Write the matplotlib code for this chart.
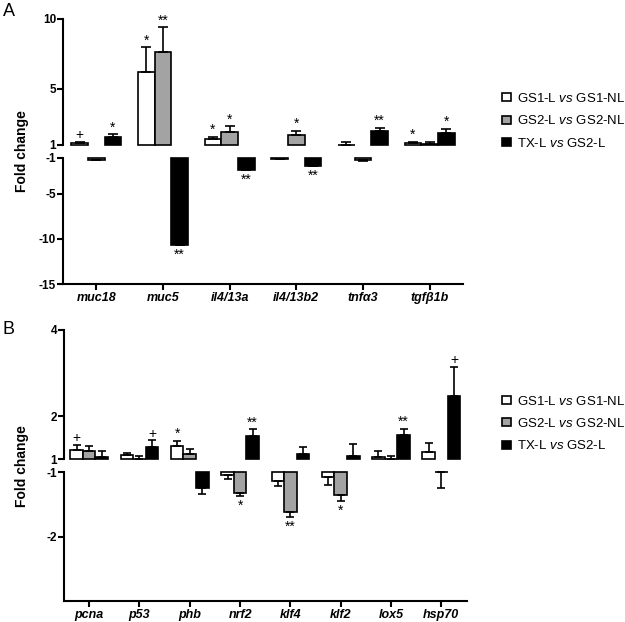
import numpy as np
import matplotlib
matplotlib.use('Agg')
import matplotlib.pyplot as plt

plt.rcParams['font.family'] = ['Liberation Sans', 'DejaVu Sans']
plt.rcParams['mathtext.fontset'] = 'custom'
plt.rcParams['mathtext.rm'] = 'Liberation Sans'
plt.rcParams['mathtext.it'] = 'Liberation Sans:italic'
plt.rcParams['axes.unicode_minus'] = False

# Panel A data (fold change, values between -1 and 1 are cut out of the axis)
genes_a = ['muc18', 'muc5', 'il4/13a', 'il4/13b2', 'tnfα3', 'tgfβ1b']
gs1_a = [1.15, 6.2, 1.43, -1.11, 1.02, 1.12]
gs1_a_err = [0.05, 1.75, 0.14, 0.04, 0.17, 0.10]
gs2_a = [-1.26, 7.6, 1.9, 1.74, -1.3, 1.05]
gs2_a_err = [0.05, 1.8, 0.43, 0.28, 0.05, 0.13]
tx_a = [1.55, -10.65, -2.36, -1.92, 2.02, 1.83]
tx_a_err = [0.2, 0.05, 0.05, 0.05, 0.19, 0.33]
gs1_a_sig = ['+', '*', '*', '', '', '*']
gs2_a_sig = ['', '**', '*', '*', '', '']
tx_a_sig = ['*', '**', '**', '**', '**', '*']

# Panel B data
genes_b = ['pcna', 'p53', 'phb', 'nrf2', 'klf4', 'klf2', 'lox5', 'hsp70']
gs1_b = [1.22, 1.10, 1.32, -1.04, -1.13, -1.08, 1.065, 1.18]
gs1_b_err = [0.12, 0.06, 0.11, 0.07, 0.09, 0.12, 0.12, 0.20]
gs2_b = [1.19, 1.02, 1.13, -1.32, -1.62, -1.36, 1.01, -1.0]
gs2_b_err = [0.12, 0.05, 0.12, 0.05, 0.08, 0.08, 0.06, 0.24]
tx_b = [1.065, 1.30, -1.24, 1.54, 1.13, 1.09, 1.57, 2.48]
tx_b_err = [0.12, 0.14, 0.09, 0.16, 0.15, 0.27, 0.14, 0.67]
gs1_b_sig = ['+', '', '*', '', '', '', '', '']
gs2_b_sig = ['', '', '', '*', '**', '*', '', '']
tx_b_sig = ['', '+', '', '**', '', '', '**', '+']

series_labels = ['GS1-L $\\it{vs}$ GS1-NL', 'GS2-L $\\it{vs}$ GS2-NL', 'TX-L $\\it{vs}$ GS2-L']
series_colors = ['white', '#a3a3a3', 'black']


def style_axes(ax_top, ax_bot):
    """Two stacked axes make the broken y axis, only the lower one has an x axis."""
    for ax in (ax_top, ax_bot):
        ax.spines['top'].set_visible(False)
        ax.spines['right'].set_visible(False)
        ax.spines['left'].set_linewidth(1.5)
        ax.tick_params(axis='y', width=1.5, length=4, labelsize=8.5, pad=1)
        for lab in ax.get_yticklabels():
            lab.set_fontweight('bold')
    ax_top.spines['bottom'].set_visible(False)
    ax_top.tick_params(axis='x', bottom=False, labelbottom=False)
    ax_bot.spines['bottom'].set_linewidth(1.5)
    ax_bot.tick_params(axis='x', width=1.5, length=4, pad=2)


def draw_panel(ax_top, ax_bot, genes, values, errors, marks, width, cap):
    x = np.arange(len(genes))
    offsets = [-width, 0, width]
    for k in range(3):
        xs = x + offsets[k]
        vals = np.array(values[k])
        err = np.array(errors[k])
        pos = vals > 0
        neg = ~pos
        ax_top.bar(xs[pos], vals[pos] - 1, width, bottom=1, color=series_colors[k],
                   edgecolor='black', linewidth=1.2, label=series_labels[k], clip_on=False)
        ax_top.errorbar(xs[pos], vals[pos], yerr=[np.zeros(pos.sum()), err[pos]], fmt='none',
                        ecolor='black', elinewidth=1.2, capsize=cap, capthick=1.2, clip_on=False)
        ax_bot.bar(xs[neg], vals[neg] + 1, width, bottom=-1, color=series_colors[k],
                   edgecolor='black', linewidth=1.2, clip_on=False)
        ax_bot.errorbar(xs[neg], vals[neg], yerr=[err[neg], np.zeros(neg.sum())], fmt='none',
                        ecolor='black', elinewidth=1.2, capsize=cap, capthick=1.2, clip_on=False)
        # significance marks above / below the error bars
        for i in range(len(genes)):
            m = marks[k][i]
            if not m:
                continue
            if vals[i] > 0:
                ax_top.annotate(m, xy=(xs[i], vals[i] + err[i]), xytext=(0, 2),
                                textcoords='offset points', ha='center', va='baseline',
                                fontsize=10, annotation_clip=False)
            else:
                ax_bot.annotate(m, xy=(xs[i], vals[i] - err[i]), xytext=(0, -2),
                                textcoords='offset points', ha='center', va='top',
                                fontsize=10, annotation_clip=False)
    ax_bot.set_xticks(x)
    ax_bot.set_xticklabels(genes, fontsize=9, fontweight='bold', fontstyle='italic')
    ax_bot.set_xlim(-0.5, len(genes) - 0.5)
    ax_top.set_xlim(-0.5, len(genes) - 0.5)


fig = plt.figure(figsize=(6.25, 6.22), dpi=100)

# Panel A
axA_top = fig.add_axes([0.1008, 0.7669, 0.64, 0.2031])
axA_bot = fig.add_axes([0.1008, 0.5434, 0.64, 0.2031])
draw_panel(axA_top, axA_bot, genes_a, [gs1_a, gs2_a, tx_a], [gs1_a_err, gs2_a_err, tx_a_err],
           [gs1_a_sig, gs2_a_sig, tx_a_sig], 0.25, 3.5)
axA_top.set_ylim(1, 10)
axA_top.set_yticks([1, 5, 10])
axA_bot.set_ylim(-15, -1)
axA_bot.set_yticks([-15, -10, -5, -1])
style_axes(axA_top, axA_bot)

# Panel B
axB_top = fig.add_axes([0.1024, 0.2613, 0.644, 0.2082])
axB_bot = fig.add_axes([0.1024, 0.0338, 0.644, 0.2069])
draw_panel(axB_top, axB_bot, genes_b, [gs1_b, gs2_b, tx_b], [gs1_b_err, gs2_b_err, tx_b_err],
           [gs1_b_sig, gs2_b_sig, tx_b_sig], 0.25, 3)
axB_top.set_ylim(1, 4)
axB_top.set_yticks([1, 2, 4])
axB_bot.set_ylim(-3, -1)
axB_bot.set_yticks([-2, -1])
style_axes(axB_top, axB_bot)

for ax_top, ypos in ((axA_top, 0.852), (axB_top, 0.3654)):
    handles, labels = ax_top.get_legend_handles_labels()
    fig.legend(handles, labels, loc='upper left', bbox_to_anchor=(0.803, ypos),
               frameon=False, fontsize=9.5, borderpad=0, borderaxespad=0,
               handlelength=0.7, handleheight=0.55, handletextpad=0.45, labelspacing=0.7)

fig.text(0.035, 0.757, 'Fold change', rotation=90, ha='center', va='center',
         fontsize=10, fontweight='bold')
fig.text(0.035, 0.251, 'Fold change', rotation=90, ha='center', va='center',
         fontsize=10, fontweight='bold')
fig.text(0.004, 0.995, 'A', fontsize=13, va='top')
fig.text(0.004, 0.484, 'B', fontsize=13, va='top')

fig.savefig('out.png', dpi=100)
